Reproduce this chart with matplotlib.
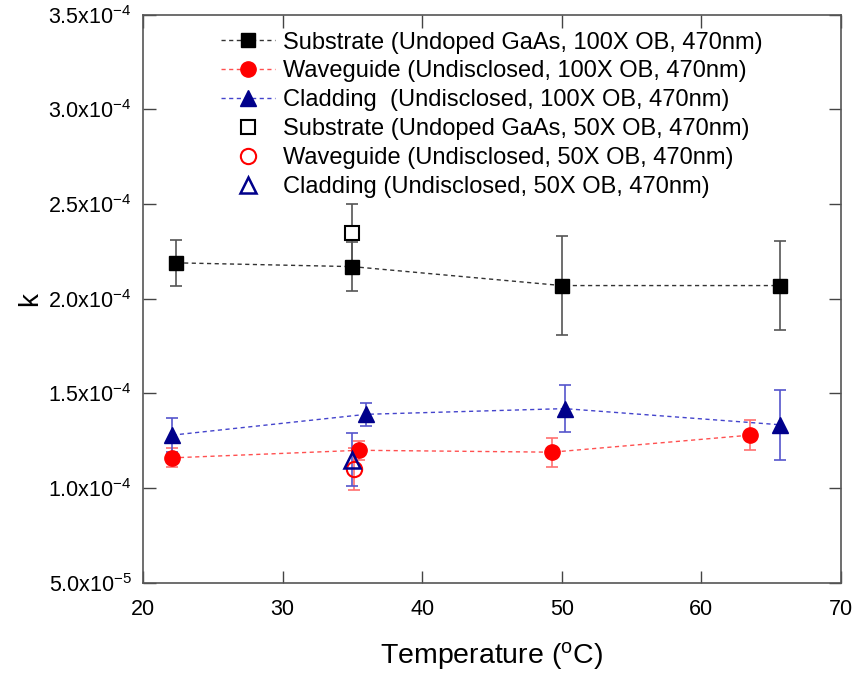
import matplotlib
matplotlib.use("Agg")
import matplotlib.pyplot as plt
from matplotlib.ticker import FuncFormatter, MultipleLocator

plt.rcParams['font.family'] = ['Liberation Sans', 'DejaVu Sans']
plt.rcParams['mathtext.default'] = 'regular'

# Substrate 100X
sub_x = [22.4, 35.0, 50.0, 65.6]
sub_y = [2.19e-4, 2.17e-4, 2.07e-4, 2.07e-4]
sub_e = [0.12e-4, 0.13e-4, 0.26e-4, 0.235e-4]
# Waveguide 100X
wg_x = [22.1, 35.5, 49.3, 63.5]
wg_y = [1.16e-4, 1.20e-4, 1.19e-4, 1.28e-4]
wg_e = [0.05e-4, 0.05e-4, 0.077e-4, 0.08e-4]
# Cladding 100X
cl_x = [22.1, 36.0, 50.2, 65.6]
cl_y = [1.28e-4, 1.39e-4, 1.42e-4, 1.335e-4]
cl_e = [0.09e-4, 0.06e-4, 0.125e-4, 0.185e-4]
# 50X single points
sub50_x, sub50_y, sub50_e = [35.0], [2.35e-4], [0.15e-4]
wg50_x, wg50_y, wg50_e = [35.1], [1.10e-4], [0.11e-4]
cl50_x, cl50_y, cl50_e = [35.0], [1.15e-4], [0.14e-4]

labels = [
    "Substrate (Undoped GaAs, 100X OB, 470nm)",
    "Waveguide (Undisclosed, 100X OB, 470nm)",
    "Cladding  (Undisclosed, 100X OB, 470nm)",
    "Substrate (Undoped GaAs, 50X OB, 470nm)",
    "Waveguide (Undisclosed, 50X OB, 470nm)",
    "Cladding (Undisclosed, 50X OB, 470nm)",
]

navy = '#00008B'
fig = plt.figure(figsize=(8.56, 6.73), dpi=100)
ax = fig.add_axes([0.167, 0.134, 0.8155, 0.844])

dash = (0, (3, 2.5))
ekw = dict(capsize=4.3, elinewidth=1.2, capthick=1.2)

h = []
# error bars
ax.errorbar(sub_x, sub_y, yerr=sub_e, fmt='none', ecolor='#555555', **ekw, zorder=2)
ax.errorbar(wg_x, wg_y, yerr=wg_e, fmt='none', ecolor='#ff7070', **ekw, zorder=2)
ax.errorbar(cl_x, cl_y, yerr=cl_e, fmt='none', ecolor='#5555cc', **ekw, zorder=2)
ax.errorbar(sub50_x, sub50_y, yerr=sub50_e, fmt='none', ecolor='#555555', **ekw, zorder=2)
ax.errorbar(wg50_x, wg50_y, yerr=wg50_e, fmt='none', ecolor='#ff7070', **ekw, zorder=2)
ax.errorbar(cl50_x, cl50_y, yerr=cl50_e, fmt='none', ecolor='#5555cc', **ekw, zorder=2)

h.append(ax.plot(sub_x, sub_y, linestyle=dash, color='#333333', lw=1,
                 marker='s', ms=10, mfc='black', mec='black', zorder=3)[0])
h.append(ax.plot(wg_x, wg_y, linestyle=dash, color='#ff5050', lw=1,
                 marker='o', ms=11, mfc='red', mec='red', zorder=3)[0])
h.append(ax.plot(cl_x, cl_y, linestyle=dash, color='#4444cc', lw=1,
                 marker='^', ms=12, mfc=navy, mec=navy, zorder=3)[0])
h.append(ax.plot(sub50_x, sub50_y, linestyle='none', marker='s', ms=10,
                 mfc='white', mec='black', mew=1.5, zorder=3)[0])
h.append(ax.plot(wg50_x, wg50_y, linestyle='none', marker='o', ms=11,
                 mfc='none', mec='red', mew=1.5, zorder=3)[0])
h.append(ax.plot(cl50_x, cl50_y, linestyle='none', marker='^', ms=12,
                 mfc='none', mec=navy, mew=1.8, zorder=4)[0])

ax.set_xlim(20, 70)
ax.set_ylim(5e-5, 3.5e-4)
ax.xaxis.set_major_locator(MultipleLocator(10))
ax.yaxis.set_major_locator(MultipleLocator(5e-5))

def yfmt(v, pos):
    import math
    if v <= 0:
        return ''
    e = int(math.floor(math.log10(v) + 1e-9))
    m = v / 10**e
    return f"{m:.1f}x10$^{{{e}}}$"

ax.yaxis.set_major_formatter(FuncFormatter(yfmt))
ax.tick_params(direction='in', length=9, width=1, color='#444444',
               top=True, right=True, labelsize=15.5)
ax.tick_params(axis='x', pad=12)
ax.tick_params(axis='y', pad=8)
for s in ax.spines.values():
    s.set_color('#555555')
    s.set_linewidth(1.2)

ax.set_xlabel("Temperature ($^{o}$C)", fontsize=20.5, labelpad=14)
ax.set_ylabel("k", fontsize=20, labelpad=4)

leg = ax.legend(h, labels, loc='upper left', bbox_to_anchor=(0.098, 0.987),
                frameon=False, fontsize=17, handlelength=2.3, numpoints=1,
                labelspacing=0.29, handletextpad=0.35, borderaxespad=0)

fig.savefig('out.png', dpi=100)
